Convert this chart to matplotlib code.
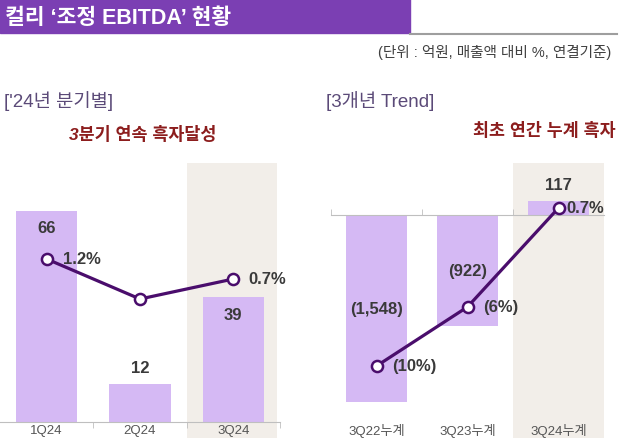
import matplotlib.pyplot as plt
from matplotlib.patches import Rectangle
from matplotlib.lines import Line2D

plt.rcParams['font.family'] = ['Liberation Sans', 'Noto Sans CJK KR']

# 분기별 데이터
q_labels = ['1Q24', '2Q24', '3Q24']
q_ebitda = [66, 12, 39]
q_margin = [1.2, 0.2, 0.7]
q_margin_text = ['1.2%', '', '0.7%']

# 3개년 누계 데이터
y_labels = ['3Q22누계', '3Q23누계', '3Q24누계']
y_ebitda = [-1548, -922, 117]
y_margin = [-10, -6, 0.7]
y_margin_text = ['(10%)', '(6%)', '0.7%']

BAR = '#D5B9F4'
BEIGE = '#F2EEE9'
LINE = '#4A0D6C'
TXT = '#3A3A3A'

W, H = 628, 439


def fmt_num(v):
    return f'({abs(v):,})' if v < 0 else f'{v:,}'


def draw_panel(rect, labels, values, margins, margin_text, ylim, ylim2,
               bar_w, span, label_dx, zero_ticks):
    ax = fig.add_axes(rect)
    x = list(range(len(labels)))
    ax.set_xlim(-0.5, 2.5)
    ax.set_ylim(*ylim)
    ax.axvspan(span[0], span[1], ymin=-16 / 259, ymax=1, color=BEIGE,
               zorder=0, clip_on=False, lw=0)
    ax.bar(x, values, width=bar_w, color=BAR, zorder=2)

    # 막대 값 라벨
    for xi, v in zip(x, values):
        if v < 0:
            ax.text(xi, v / 2, fmt_num(v), ha='center', va='center',
                    fontsize=12, fontweight='bold', color=TXT, zorder=3)
        elif v > 0.3 * ylim[1]:
            ax.annotate(fmt_num(v), (xi, v), xytext=(0, -17),
                        textcoords='offset pixels', ha='center', va='center',
                        fontsize=12, fontweight='bold', color=TXT, zorder=3)
        else:
            ax.annotate(fmt_num(v), (xi, v), xytext=(0, 16),
                        textcoords='offset pixels', ha='center', va='center',
                        fontsize=12, fontweight='bold', color=TXT, zorder=3)

    # 카테고리 라벨
    for xi, lab in zip(x, labels):
        ax.annotate(lab, (xi, 0), xycoords=('data', 'axes fraction'),
                    xytext=(0, -8), textcoords='offset pixels',
                    ha='center', va='center', fontsize=9.5, color='#555555',
                    annotation_clip=False)

    for s in ['top', 'left', 'right']:
        ax.spines[s].set_visible(False)
    ax.spines['bottom'].set_position(('data', 0))
    ax.spines['bottom'].set_color('#BFBFBF')
    ax.set_xticks([])
    ax.set_xticks(zero_ticks, minor=True)
    ax.tick_params(axis='x', which='minor', length=4, color='#BFBFBF',
                   direction='out' if ylim[0] == 0 else 'in')
    ax.set_yticks([])
    ax.patch.set_visible(False)

    # 매출액 대비 % 꺾은선
    ax2 = ax.twinx()
    ax2.set_ylim(*ylim2)
    ax2.plot(x, margins, color=LINE, lw=2.3, marker='o', markersize=8,
             markerfacecolor='white', markeredgecolor=LINE,
             markeredgewidth=1.8, zorder=4)
    for xi, m, t, dx in zip(x, margins, margin_text, label_dx):
        if t:
            ax2.annotate(t, (xi, m), xytext=(dx, 0),
                         textcoords='offset pixels', ha='left', va='center',
                         fontsize=12, fontweight='bold', color=TXT)
    ax2.axis('off')
    return ax


fig = plt.figure(figsize=(W / 100, H / 100), dpi=100)

# 제목 바
fig.patches.append(Rectangle((0, 1 - 34 / H), 410 / W, 34 / H,
                             transform=fig.transFigure, color='#7B3FB3'))
fig.lines.append(Line2D([410 / W, 617 / W], [1 - 35 / H, 1 - 35 / H],
                        transform=fig.transFigure, color='#9E9E9E', lw=1.5))
fig.text(5 / W, 1 - 18 / H, "컬리 ‘조정 EBITDA’ 현황", color='white',
         fontsize=15.5, fontweight='bold', va='center')
fig.text(611 / W, 1 - 52 / H, '(단위 : 억원, 매출액 대비 %, 연결기준)',
         ha='right', va='center', fontsize=10.5, color='#404040')

fig.text(4 / W, 1 - 101 / H, "['24년 분기별]", fontsize=13.5,
         color='#5B4A78', va='center')
fig.text(326 / W, 1 - 101 / H, '[3개년 Trend]', fontsize=13.5,
         color='#5B4A78', va='center')
fig.text(143 / W, 1 - 135 / H, '3분기 연속 흑자달성', ha='center',
         va='center', fontsize=12.5, fontweight='bold', style='italic',
         color='#8C1D1D')
fig.text(544 / W, 1 - 131 / H, '최초 연간 누계 흑자', ha='center',
         va='center', fontsize=12.5, fontweight='bold', style='italic',
         color='#8C1D1D')

bottom = 16 / H
height = 259 / H

draw_panel([0, bottom, 280 / W, height], q_labels, q_ebitda, q_margin,
           q_margin_text, (0, 259 / 3.2), (1.2 - 163 / 40, 1.2 + 96 / 40),
           0.66, (1.5, 2.47), [16, 0, 15], [0.5, 1.5, 2.5])

draw_panel([331 / W, bottom, 273 / W, height], y_labels, y_ebitda, y_margin,
           y_margin_text, (-207 * 8.3, 52 * 8.3),
           (-(423 - 219.3) / 14.77, (219.3 - 164) / 14.77),
           0.67, (1.5, 2.5), [16, 16, 8], [-0.5, 0.5, 1.5])

fig.savefig('out.png', dpi=100)
